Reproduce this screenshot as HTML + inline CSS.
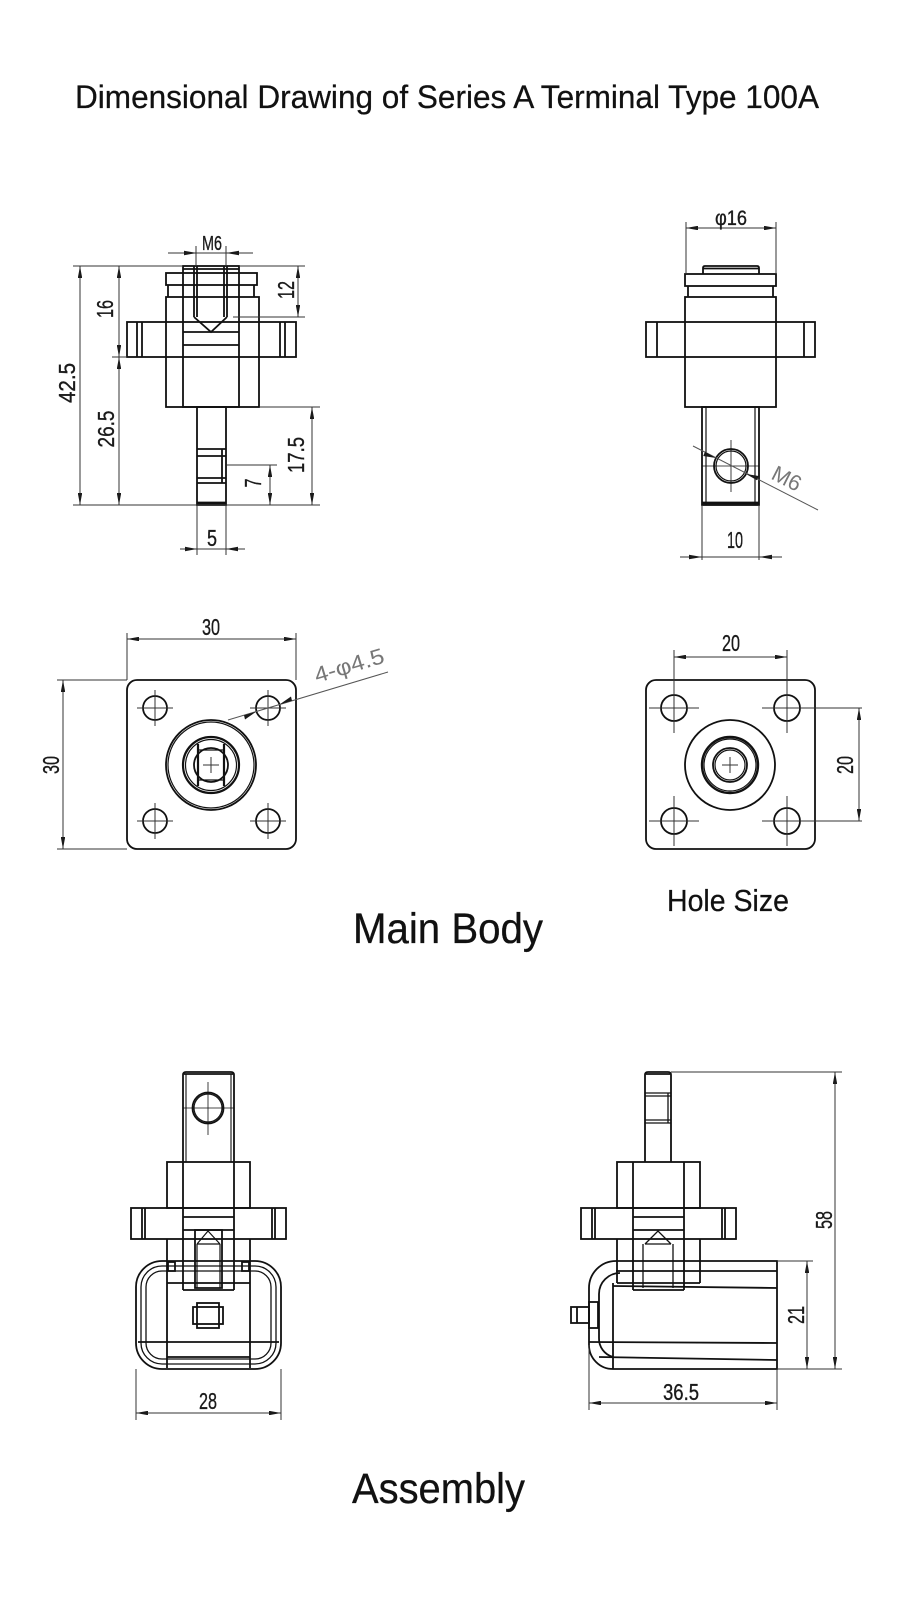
<!DOCTYPE html>
<html><head><meta charset="utf-8">
<style>html,body{margin:0;padding:0;background:#fff}svg{display:block}</style>
</head><body>
<svg width="900" height="1620" viewBox="0 0 900 1620" xmlns="http://www.w3.org/2000/svg">
<defs>
<marker id="ar" viewBox="0 0 12 4.4" refX="12" refY="2.2" markerWidth="12" markerHeight="4.4" markerUnits="userSpaceOnUse" orient="auto-start-reverse"><path d="M0,0L12,2.2L0,4.4z" fill="#1a1a1a"/></marker>
</defs>
<rect width="900" height="1620" fill="#fff"/>

<!-- Title -->
<text x="75" y="108" font-family="Liberation Sans, sans-serif" font-size="32" textLength="744" lengthAdjust="spacingAndGlyphs" fill="#111" stroke="#111" stroke-width="0.25">Dimensional Drawing of Series A Terminal Type 100A</text>

<!-- ============ TOP LEFT ============ -->
<g fill="none" stroke="#111" stroke-width="1.8">
<rect x="183" y="266" width="56" height="141"/>
<line x1="183" y1="269" x2="239" y2="269"/>
<rect x="166" y="273" width="91" height="12"/>
<path d="M168 285V297M254 285V297"/>
<rect x="166" y="297" width="93" height="110"/>
<rect x="127" y="322" width="169" height="35"/>
<path d="M137 322V357M142 322V357M280 322V357M285 322V357"/>
<path d="M194 266V317M227 266V317M197 266V317M224 266V317M194 317L211 332L227 317"/>
<path d="M183 332H239M183 345H239"/>
<rect x="197" y="407" width="29" height="98"/>
<path d="M197 449H226M197 456H226M197 478H226M197 483H226M222 449V483"/>
<line x1="197" y1="503" x2="226" y2="503" stroke-width="2.8"/>
</g>
<g fill="none" stroke="#333" stroke-width="1">
<line x1="168" y1="253" x2="253" y2="253"/>
<path d="M196 246V266M226 246V266"/>
<path d="M73 266H183M239 266H305"/>
<path d="M233 317H305"/>
<line x1="298" y1="266" x2="298" y2="317" marker-start="url(#ar)" marker-end="url(#ar)"/>
<path d="M260 407H320"/>
<line x1="312" y1="407" x2="312" y2="505" marker-start="url(#ar)" marker-end="url(#ar)"/>
<path d="M227 465H277"/>
<line x1="270" y1="465" x2="270" y2="505" marker-start="url(#ar)" marker-end="url(#ar)"/>
<path d="M73 505H320"/>
<line x1="80" y1="266" x2="80" y2="505" marker-start="url(#ar)" marker-end="url(#ar)"/>
<line x1="119" y1="266" x2="119" y2="357" marker-start="url(#ar)" marker-end="url(#ar)"/>
<path d="M112 357H127"/>
<line x1="119" y1="357" x2="119" y2="505" marker-start="url(#ar)" marker-end="url(#ar)"/>
<path d="M197 505V555M226 505V555M180 549H245"/>
</g>
<g fill="#1a1a1a">
<polygon points="184,250.8 197,253 184,255.2"/>
<polygon points="239,250.8 226,253 239,255.2"/>
<polygon points="185,546.8 197,549 185,551.2"/>
<polygon points="238,546.8 226,549 238,551.2"/>
</g>
<g font-family="Liberation Sans Narrow, Liberation Sans, sans-serif" font-size="23" fill="#1a1a1a" stroke="#1a1a1a" stroke-width="0.35">
<text x="202" y="250" font-size="20" textLength="20" lengthAdjust="spacingAndGlyphs">M6</text>
<text x="207" y="546" textLength="10" lengthAdjust="spacingAndGlyphs">5</text>
<text transform="translate(113,309) rotate(-90)" x="-9" y="0" textLength="18" lengthAdjust="spacingAndGlyphs">16</text>
<text transform="translate(114,429) rotate(-90)" x="-18.5" y="0" textLength="37" lengthAdjust="spacingAndGlyphs">26.5</text>
<text transform="translate(75,383) rotate(-90)" x="-20" y="0" textLength="40" lengthAdjust="spacingAndGlyphs">42.5</text>
<text transform="translate(294,290) rotate(-90)" x="-9" y="0" textLength="18" lengthAdjust="spacingAndGlyphs">12</text>
<text transform="translate(304,455) rotate(-90)" x="-18" y="0" textLength="36" lengthAdjust="spacingAndGlyphs">17.5</text>
<text transform="translate(261,483) rotate(-90)" x="-4.5" y="0" textLength="9" lengthAdjust="spacingAndGlyphs">7</text>
</g>

<!-- ============ TOP RIGHT ============ -->
<g fill="none" stroke="#111" stroke-width="1.8">
<path d="M703 274V268Q703 266 705 266H757Q759 266 759 268V274"/>
<line x1="703" y1="268.5" x2="759" y2="268.5"/>
<rect x="685" y="274" width="91" height="12"/>
<path d="M688 286V297M773 286V297"/>
<rect x="685" y="297" width="91" height="110"/>
<rect x="646" y="322" width="169" height="35"/>
<path d="M657 322V357M804 322V357"/>
<rect x="702" y="407" width="57" height="98"/>
<path d="M706 407V505M755 407V505" stroke-width="1.2"/>
<line x1="702" y1="503" x2="759" y2="503" stroke-width="2.8"/>
<circle cx="731" cy="466" r="17"/>
<circle cx="731" cy="466" r="15" stroke-width="1.2"/>
<path d="M731 440V492M702 466H759" stroke-width="0.8"/>
</g>
<g fill="none" stroke="#333" stroke-width="1">
<path d="M686 222V274M776 222V274"/>
<line x1="686" y1="228" x2="776" y2="228" marker-start="url(#ar)" marker-end="url(#ar)"/>
<line x1="693" y1="446" x2="818" y2="510" stroke="#555"/>
<path d="M702 505V560M759 505V560M680 557H782"/>
</g>
<g fill="#1a1a1a">
<polygon points="705,451.8 716,458 703.2,456"/>
<polygon points="757,480.2 746,474 758.8,476"/>
<polygon points="689,554.8 702,557 689,559.2"/>
<polygon points="772,554.8 759,557 772,559.2"/>
</g>
<g font-family="Liberation Sans Narrow, Liberation Sans, sans-serif" font-size="23" fill="#1a1a1a" stroke="#1a1a1a" stroke-width="0.35">
<text x="715" y="225" font-size="21" textLength="32" lengthAdjust="spacingAndGlyphs">φ16</text>
<text x="727" y="548" textLength="16" lengthAdjust="spacingAndGlyphs">10</text>
<text transform="translate(787,478) rotate(27)" x="-15" y="8" font-size="22" fill="#777" stroke="none" textLength="30" lengthAdjust="spacingAndGlyphs">M6</text>
</g>

<!-- ============ MIDDLE LEFT ============ -->
<g fill="none" stroke="#111" stroke-width="1.8">
<rect x="127" y="680" width="169" height="169" rx="10"/>
<circle cx="155" cy="708" r="12"/><circle cx="268" cy="708" r="12"/>
<circle cx="155" cy="821" r="12"/><circle cx="268" cy="821" r="12"/>
<circle cx="211" cy="765" r="45"/>
<circle cx="211" cy="765" r="43" stroke-width="1.2"/>
<circle cx="211" cy="765" r="28" stroke-width="2.2"/>
<circle cx="211" cy="765" r="25.5" stroke-width="1.2"/>
<circle cx="211" cy="765" r="17"/>
<path d="M198 744V786M224 744V786" stroke-width="2.2"/>
<path d="M198 750H224M198 780H224" stroke-width="1.2"/>
</g>
<g fill="none" stroke="#333" stroke-width="1">
<path d="M137 708H173M155 690V726M250 708H286M268 690V726M137 821H173M155 803V839M250 821H286M268 803V839"/>
<path d="M203 765H219M211 757V773"/>
<path d="M127 633V680M296 633V680"/>
<line x1="127" y1="639" x2="296" y2="639" marker-start="url(#ar)" marker-end="url(#ar)"/>
<path d="M57 680H127M57 849H127"/>
<line x1="63" y1="680" x2="63" y2="849" marker-start="url(#ar)" marker-end="url(#ar)"/>
<line x1="228" y1="720" x2="388" y2="672" stroke="#555"/>
</g>
<g fill="#1a1a1a">
<polygon points="244,715.3 256.5,711.5 245,719.5"/>
<polygon points="292,700.7 279.5,704.5 291,696.5"/>
</g>
<g font-family="Liberation Sans Narrow, Liberation Sans, sans-serif" font-size="23" fill="#1a1a1a" stroke="#1a1a1a" stroke-width="0.35">
<text x="202" y="635" textLength="18" lengthAdjust="spacingAndGlyphs">30</text>
<text transform="translate(59,765) rotate(-90)" x="-9" y="0" textLength="18" lengthAdjust="spacingAndGlyphs">30</text>
<text transform="translate(349,665) rotate(-16.7)" x="-36" y="8" font-size="22" fill="#777" stroke="none" textLength="72" lengthAdjust="spacingAndGlyphs">4-φ4.5</text>
</g>

<!-- ============ MIDDLE RIGHT ============ -->
<g fill="none" stroke="#111" stroke-width="1.8">
<rect x="646" y="680" width="169" height="169" rx="10"/>
<circle cx="674" cy="708" r="13"/><circle cx="787" cy="708" r="13"/>
<circle cx="674" cy="821" r="13"/><circle cx="787" cy="821" r="13"/>
<circle cx="730" cy="765" r="45"/>
<circle cx="730" cy="765" r="28" stroke-width="2.4"/>
<circle cx="730" cy="765" r="26" stroke-width="1.2"/>
<circle cx="730" cy="765" r="17"/>
<circle cx="730" cy="765" r="15" stroke-width="1.2"/>
</g>
<g fill="none" stroke="#333" stroke-width="1">
<path d="M649 708H699M674 684V733M649 821H699M674 796V846M787 796V846M762 821H862M762 708H862M787 684V733"/>
<path d="M722 765H738M730 757V773"/>
<path d="M674 650V708M787 650V708"/>
<line x1="674" y1="657" x2="787" y2="657" marker-start="url(#ar)" marker-end="url(#ar)"/>
<line x1="859" y1="708" x2="859" y2="821" marker-start="url(#ar)" marker-end="url(#ar)"/>
</g>
<g font-family="Liberation Sans Narrow, Liberation Sans, sans-serif" font-size="23" fill="#1a1a1a" stroke="#1a1a1a" stroke-width="0.35">
<text x="722" y="651" textLength="18" lengthAdjust="spacingAndGlyphs">20</text>
<text transform="translate(853,765) rotate(-90)" x="-9" y="0" textLength="18" lengthAdjust="spacingAndGlyphs">20</text>
</g>

<text x="667" y="911" font-family="Liberation Sans, sans-serif" font-size="31" textLength="122" lengthAdjust="spacingAndGlyphs" fill="#111" stroke="#111" stroke-width="0.25">Hole Size</text>
<text x="353" y="943" font-family="Liberation Sans, sans-serif" font-size="43" textLength="190" lengthAdjust="spacingAndGlyphs" fill="#111" stroke="#111" stroke-width="0.3">Main Body</text>

<!-- ============ BOTTOM LEFT ============ -->
<g fill="none" stroke="#111" stroke-width="1.8">
<path d="M183 1162V1075Q183 1072 186 1072H231Q234 1072 234 1075V1162"/>
<line x1="184" y1="1074" x2="233" y2="1074"/>
<path d="M186 1074V1162M231 1074V1162" stroke-width="1.1"/>
<circle cx="208" cy="1108" r="15.5"/>
<circle cx="208" cy="1108" r="14" stroke-width="1.2"/>
<path d="M208 1082V1135M183 1108H234" stroke-width="0.8"/>
<rect x="167" y="1162" width="83" height="46"/>
<path d="M183 1162V1290M234 1162V1290"/>
<rect x="131" y="1208" width="155" height="31"/>
<path d="M142 1208V1239M145 1208V1239M272 1208V1239M275 1208V1239"/>
<path d="M167 1239V1368M250 1239V1368"/>
<path d="M183 1217H234M183 1230H234M183 1290H234"/>
<path d="M195 1230H222V1288H195Z"/>
<path d="M197 1244L208 1231L220 1244M197 1244H220M197 1244V1288M220 1244V1288" stroke-width="1.2"/>
<rect x="136" y="1261" width="145" height="108" rx="26"/>
<rect x="141" y="1266" width="135" height="98" rx="21" stroke-width="1.3"/>
<rect x="146" y="1271" width="125" height="88" rx="16" stroke-width="1.3"/>
<path d="M167 1283H250M138 1342H279M167 1357H250"/>
<rect x="168" y="1262" width="7" height="9"/>
<rect x="242" y="1262" width="7" height="9"/>
<rect x="197" y="1303" width="22" height="25"/>
<rect x="193" y="1307" width="30" height="17"/>
</g>
<g fill="none" stroke="#333" stroke-width="1">
<path d="M136 1369V1420M281 1369V1420"/>
<line x1="136" y1="1413" x2="281" y2="1413" marker-start="url(#ar)" marker-end="url(#ar)"/>
</g>
<text x="199" y="1409" font-family="Liberation Sans Narrow, Liberation Sans, sans-serif" font-size="23" fill="#1a1a1a" stroke="#1a1a1a" stroke-width="0.35" textLength="18" lengthAdjust="spacingAndGlyphs">28</text>

<!-- ============ BOTTOM RIGHT ============ -->
<g fill="none" stroke="#111" stroke-width="1.8">
<path d="M645 1162V1075Q645 1072 648 1072H668Q671 1072 671 1075V1162"/>
<line x1="646" y1="1074" x2="670" y2="1074"/>
<path d="M645 1093H671M645 1096H671M645 1120H671M645 1123H671M668 1093V1123" stroke-width="1.3"/>
<rect x="617" y="1162" width="83" height="46"/>
<path d="M633 1162V1290M684 1162V1290"/>
<rect x="581" y="1208" width="155" height="31"/>
<path d="M592 1208V1239M595 1208V1239M722 1208V1239M725 1208V1239"/>
<path d="M617 1239V1283M700 1239V1283"/>
<path d="M633 1217H684M633 1230H684M633 1290H684"/>
<path d="M643 1244V1288M673 1244V1288M645 1244L658 1231L671 1244M645 1244H671" stroke-width="1.3"/>
<path d="M616 1261H777V1369H613A24 24 0 0 1 589 1345V1288A27 27 0 0 1 616 1261Z"/>
<path d="M620 1273A21 21 0 0 0 599 1294V1338A19 19 0 0 0 613 1357"/>
<path d="M613 1283V1369"/>
<path d="M616 1271H777M613 1286L777 1288M589 1342L777 1343M599 1357L777 1360M617 1283H700"/>
<rect x="571" y="1307" width="18" height="16"/>
<path d="M577 1307V1323"/>
<rect x="589" y="1302" width="9" height="26"/>
</g>
<g fill="none" stroke="#333" stroke-width="1">
<path d="M671 1072H842"/>
<path d="M777 1261H813M777 1369H842"/>
<line x1="807" y1="1261" x2="807" y2="1369" marker-start="url(#ar)" marker-end="url(#ar)"/>
<line x1="835" y1="1072" x2="835" y2="1369" marker-start="url(#ar)" marker-end="url(#ar)"/>
<path d="M589 1345V1410M777 1369V1410"/>
<line x1="589" y1="1403" x2="777" y2="1403" marker-start="url(#ar)" marker-end="url(#ar)"/>
</g>
<g font-family="Liberation Sans Narrow, Liberation Sans, sans-serif" font-size="23" fill="#1a1a1a" stroke="#1a1a1a" stroke-width="0.35">
<text x="663" y="1400" textLength="36" lengthAdjust="spacingAndGlyphs">36.5</text>
<text transform="translate(804,1315) rotate(-90)" x="-9" y="0" textLength="18" lengthAdjust="spacingAndGlyphs">21</text>
<text transform="translate(832,1220) rotate(-90)" x="-9" y="0" textLength="18" lengthAdjust="spacingAndGlyphs">58</text>
</g>

<text x="352" y="1503" font-family="Liberation Sans, sans-serif" font-size="43" textLength="173" lengthAdjust="spacingAndGlyphs" fill="#111" stroke="#111" stroke-width="0.3">Assembly</text>
</svg>
</body></html>
